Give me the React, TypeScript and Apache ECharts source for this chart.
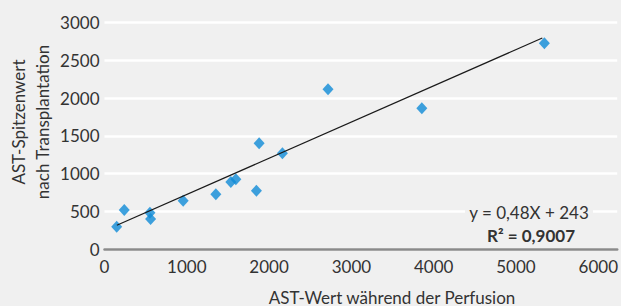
import React, { useEffect, useRef } from "react";
import * as echarts from "echarts";

const astPerfusion = [148, 240, 552, 560, 956, 1353, 1535, 1596, 1846, 1879, 2162, 2716, 3856, 5345];
const astPeak = [296, 517, 481, 398, 640, 725, 888, 924, 773, 1401, 1269, 2117, 1865, 2727];
const trendSlope = 0.48;
const trendIntercept = 243;
const trendXRange = [150, 5320];
const xTicks = [0, 1000, 2000, 3000, 4000, 5000, 6000];
const yTicks = [0, 500, 1000, 1500, 2000, 2500, 3000];
const xTitle = "AST-Wert während der Perfusion";
const yTitleLines = ["AST-Spitzenwert", "nach Transplantation"];
const equationText = "y = 0,48X + 243";
const r2Text = "R² = 0,9007";

const FONT = "Lato";
const TEXT_COLOR = "#333333";
const BG = "#f0f0f0";

export default function App() {
  const ref = useRef<HTMLDivElement>(null);
  useEffect(() => {
    if (!ref.current) return;
    const chart = echarts.init(ref.current, undefined, { renderer: "svg" });
    const points = astPerfusion.map((x, i) => [x, astPeak[i]]);
    const trend = trendXRange.map((x) => [x, trendSlope * x + trendIntercept]);
    chart.setOption({
      animation: false,
      backgroundColor: BG,
      textStyle: { fontFamily: FONT },
      grid: { left: 104.5, right: 3, top: 22.7, bottom: 57, containLabel: false },
      xAxis: {
        type: "value",
        min: 0,
        max: 6230,
        interval: 1000,
        axisLine: { show: true, lineStyle: { color: "#8a8a8a", width: 2.5 } },
        axisTick: { show: false },
        splitLine: { show: false },
        axisLabel: {
          color: TEXT_COLOR,
          fontSize: 17,
          fontFamily: FONT,
          margin: 9,
          formatter: (v: number) => (xTicks.includes(v) ? String(v) : ""),
        },
      },
      yAxis: {
        type: "value",
        min: 0,
        max: 3000,
        interval: 500,
        axisLine: { show: false },
        axisTick: { show: false },
        splitLine: { show: true, lineStyle: { color: "#ffffff", width: 2.5 } },
        axisLabel: {
          color: TEXT_COLOR,
          fontSize: 17,
          fontFamily: FONT,
          margin: 5,
          formatter: (v: number) => (yTicks.includes(v) ? String(v) : ""),
        },
      },
      series: [
        {
          type: "scatter",
          data: points,
          symbol: "diamond",
          symbolSize: [11, 12],
          itemStyle: { color: "#0f8bd7" },
          z: 2,
        },
        {
          type: "line",
          data: trend,
          showSymbol: false,
          symbol: "none",
          lineStyle: { color: "#1a1a1a", width: 1.2 },
          z: 3,
        },
      ],
      graphic: [
        {
          type: "text",
          x: 392,
          y: 297,
          style: {
            text: xTitle,
            font: `17px ${FONT}`,
            fill: TEXT_COLOR,
            textAlign: "center",
            textVerticalAlign: "middle",
          },
        },
        {
          type: "text",
          x: 30,
          y: 122,
          rotation: Math.PI / 2,
          style: {
            text: yTitleLines.join("\n"),
            font: `17px ${FONT}`,
            lineHeight: 24,
            fill: TEXT_COLOR,
            textAlign: "center",
            textVerticalAlign: "middle",
          },
        },
        {
          type: "text",
          x: 529,
          y: 212,
          z: 10,
          style: {
            text: equationText,
            font: `17px ${FONT}`,
            fill: TEXT_COLOR,
            textAlign: "center",
            textVerticalAlign: "middle",
            backgroundColor: BG,
            padding: [2, 4],
          },
        },
        {
          type: "text",
          x: 531,
          y: 235,
          z: 10,
          style: {
            text: r2Text,
            font: `bold 17px ${FONT}`,
            fill: TEXT_COLOR,
            textAlign: "center",
            textVerticalAlign: "middle",
          },
        },
      ],
    });
    return () => chart.dispose();
  }, []);
  return <div ref={ref} style={{ width: 621, height: 306, position: "absolute", left: 0, top: 0 }} />;
}
